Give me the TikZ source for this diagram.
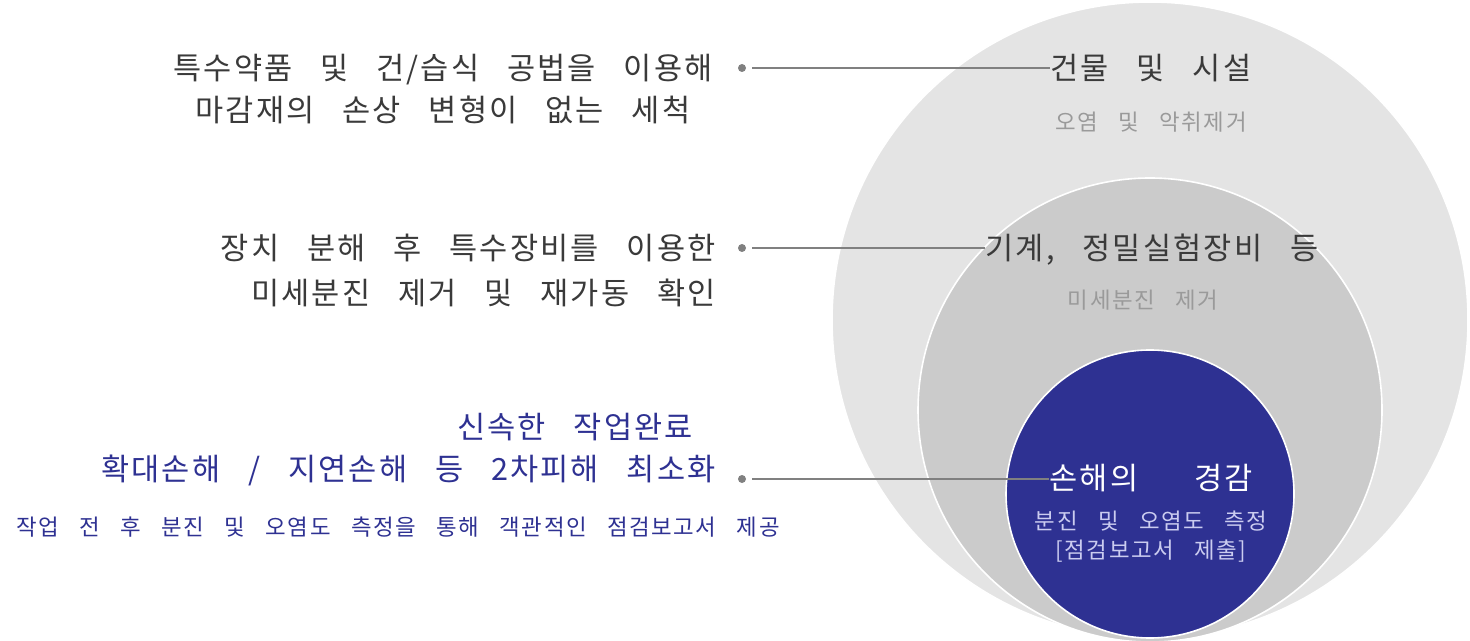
\documentclass[tikz,border=0pt]{standalone}
\usepackage{fontspec}
\setmainfont{Noto Sans CJK KR}[WordSpace=3.1, LetterSpace=7]
\usetikzlibrary{positioning}

\definecolor{ringA}{HTML}{E4E4E4}
\definecolor{ringB}{HTML}{CBCBCB}
\definecolor{navy}{HTML}{2E3192}
\definecolor{ink}{HTML}{3A3A3A}
\definecolor{soft}{HTML}{9A9A9A}
\definecolor{pale}{HTML}{CBCCF0}
\definecolor{leadgray}{HTML}{808080}

\begin{document}
\begin{tikzpicture}[
  x=0.5pt, y=-0.5pt,
  ring/.style={circle, draw=white, line width=0.8pt, inner sep=0pt},
  head/.style={font=\fontsize{15.3}{21}\selectfont, text=ink, inner sep=0pt},
  sub/.style={font=\fontsize{11.2}{14.5}\selectfont, text=soft, inner sep=0pt},
  dot/.style={circle, fill=leadgray, inner sep=0pt, minimum size=4pt},
  lead/.style={draw=leadgray, line width=0.8pt, shorten <=3pt}
]
\useasboundingbox (0,0) rectangle (1470,641);

% --- nested circles ---
\node[ring, fill=ringA, minimum size=318pt] (outer) at (1150,320) {};
\node[ring, fill=ringB, minimum size=232pt] (middle) at (1150,410) {};
\node[ring, fill=navy, minimum size=144pt] (inner) at (1150,494) {};

% --- circle labels ---
\node[head] (bldg) at (1151,68) {건물 및 시설};
\node[sub] (bldgsub) at (1151,122) {오염 및 악취제거};
\node[head] (mach) at (1152,250) {기계, 정밀실험장비 등};
\node[sub] (machsub) at (1143,300) {미세분진 제거};
\node[head, text=white] (loss) at (1151,478) {손해의 \ 경감};
\node[sub, text=pale, align=center] (losssub) at (1151,537)
  {분진 및 오염도 측정\\ {[점검보고서 제출]}};

% --- left descriptions ---
\node[head, align=center] (t1) at (443,89)
  {특수약품 및 건/습식 공법을 이용해\\마감재의 손상 변형이 없는 세척};
\node[head, font=\fontsize{15.3}{22.5}\selectfont, align=right, anchor=east] (t2) at (716,270.5)
  {장치 분해 후 특수장비를 이용한\\미세분진 제거 및 재가동 확인};
\node[head, text=navy] (t3a) at (575,427) {신속한 작업완료};
\node[head, text=navy, anchor=east] (t3b) at (716,470)
  {확대손해 / 지연손해 등 2차피해 최소화};
\node[sub, text=navy] (t3c) at (398,527)
  {작업 전 후 분진 및 오염도 측정을 통해 객관적인 점검보고서 제공};

% --- leader dots and lines ---
\node[dot] (d1) at (742,68) {};
\node[dot] (d2) at (742,248) {};
\node[dot] (d3) at (742,479) {};
\foreach \d/\t in {d1/bldg, d2/mach, d3/loss}
  \draw[lead] (\d) -- (\d -| \t.west);

\end{tikzpicture}
\end{document}
